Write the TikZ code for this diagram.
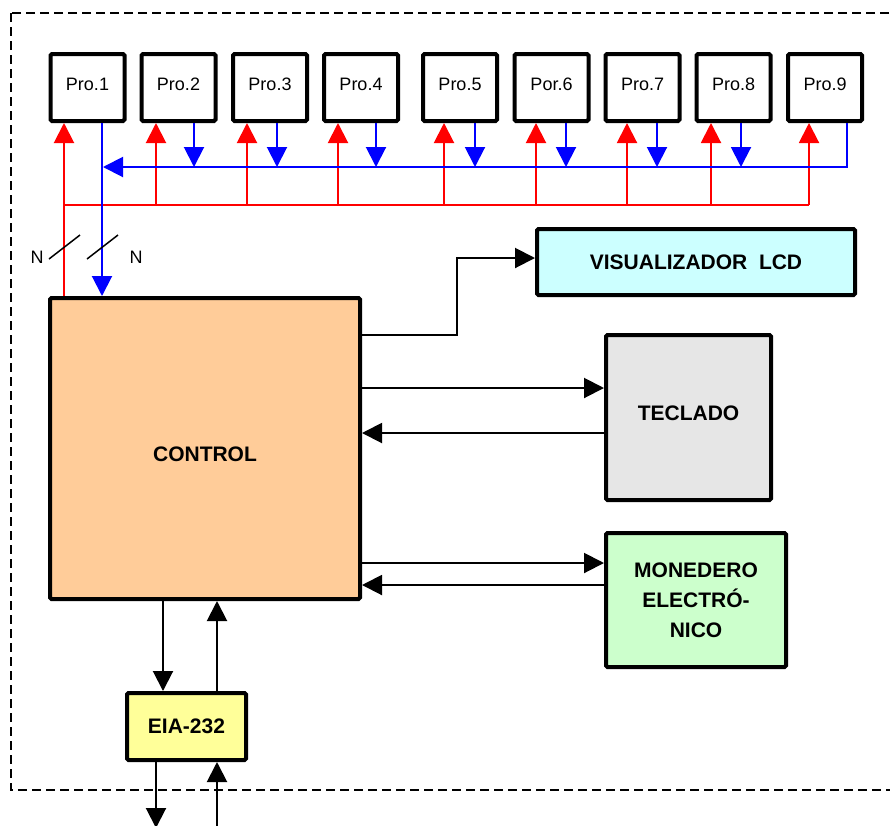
\documentclass[tikz,border=0pt]{standalone}
\usepackage{fontspec}
\setmainfont{Liberation Sans}
\usetikzlibrary{arrows.meta}
\definecolor{ctrlc}{HTML}{FFCC99}
\definecolor{lcdc}{HTML}{CCFFFF}
\definecolor{tecc}{HTML}{E6E6E6}
\definecolor{monc}{HTML}{CCFFCC}
\definecolor{eiac}{HTML}{FFFF99}
\newcommand{\shiftup}[2]{\raisebox{#1}[\height][\depth]{#2}}
\begin{document}
\begin{tikzpicture}[x=1pt,y=-1pt,
  box/.style={draw,line width=4pt,rounded corners=1.5pt,inner sep=0pt},
  pro/.style={box,fill=white,minimum width=74pt,minimum height=67pt,font=\fontsize{18}{21}\selectfont},
  boldtxt/.style={font=\fontsize{21}{30}\selectfont\bfseries,align=center},
  tip/.style={-{Triangle[length=20pt,width=20pt]}},
  rl/.style={draw=red,line width=2pt},
  bl/.style={draw=blue,line width=2pt},
  bk/.style={draw=black,line width=2pt,tip},
  frame/.style={draw=black,line width=2.2pt,dash pattern=on 9pt off 5pt}
]
\useasboundingbox (0,0) rectangle (890,825);
\begin{scope}
\clip (0,0) rectangle (890,825);
\draw[frame] (11,13) rectangle (905,790);

% processor boxes
\foreach \n/\c/\t in {1/87.5/Pro.1, 2/178.5/Pro.2, 3/270/Pro.3, 4/361/Pro.4, 5/460/Pro.5, 6/551.5/Por.6, 7/642.5/Pro.7, 8/733.5/Pro.8, 9/825/Pro.9}
  {\node[pro] (p\n) at (\c,87.5) {\shiftup{3pt}{\t}};}

% main blocks
\node[box,fill=ctrlc,minimum width=310pt,minimum height=301pt,boldtxt] (ctrl) at (205,448.5) {\shiftup{-6pt}{CONTROL}};
\node[box,fill=lcdc,minimum width=318pt,minimum height=66pt,boldtxt] (lcd) at (696,262) {VISUALIZADOR\ \ LCD};
\node[box,fill=tecc,minimum width=165pt,minimum height=165pt,boldtxt] (tec) at (688.5,417.5) {\shiftup{4pt}{TECLADO}};
\node[box,fill=monc,minimum width=180pt,minimum height=134pt,boldtxt] (mon) at (696,600) {MONEDERO\\ELECTRÓ-\\NICO};
\node[box,fill=eiac,minimum width=119pt,minimum height=67pt,boldtxt] (eia) at (186.5,726.5) {EIA-232};

% red bus (to processors)
\draw[rl] (64,205) -- (809,205);
\draw[rl,tip] (64,0 |- ctrl.north) -- (64,0 |- p1.south);
\foreach \n/\r in {2/156, 3/247, 4/338, 5/444, 6/536, 7/627, 8/711, 9/809}
  {\draw[rl,tip] (\r,205) -- (\r,0 |- p\n.south);}

% blue bus (from processors)
\draw[bl,tip] (847,0 |- p9.south) -- (847,167) -- (103,167);
\draw[bl,tip] (102,0 |- p1.south) -- (102,0 |- ctrl.north);
\foreach \n/\b in {2/194, 3/277, 4/376, 5/475, 6/566, 7/657, 8/741}
  {\draw[bl,tip] (\b,0 |- p\n.south) -- (\b,167);}

% bus width marks
\draw[line width=1.5pt] (49,259) -- (80,235);
\draw[line width=1.5pt] (87,259) -- (118,235);
\node[font=\fontsize{18}{21}\selectfont] (n1) at (37,257) {N};
\node[font=\fontsize{18}{21}\selectfont] (n2) at (136,257) {N};

% black connectors
\draw[bk] (ctrl.east |- 0,335) -- (457,335) -- (457,258) -- (lcd.west |- 0,258);
\draw[bk] (ctrl.east |- 0,388) -- (tec.west |- 0,388);
\draw[bk] (tec.west |- 0,433) -- (ctrl.east |- 0,433);
\draw[bk] (ctrl.east |- 0,563) -- (mon.west |- 0,563);
\draw[bk] (mon.west |- 0,585) -- (ctrl.east |- 0,585);
\draw[bk] (163,0 |- ctrl.south) -- (163,0 |- eia.north);
\draw[bk] (217,0 |- eia.north) -- (217,0 |- ctrl.south);
\coordinate (outA) at (156,828);
\coordinate (inB) at (217,830);
\draw[bk] (156,0 |- eia.south) -- (outA);
\draw[bk] (inB) -- (217,0 |- eia.south);
\end{scope}
\end{tikzpicture}
\end{document}
